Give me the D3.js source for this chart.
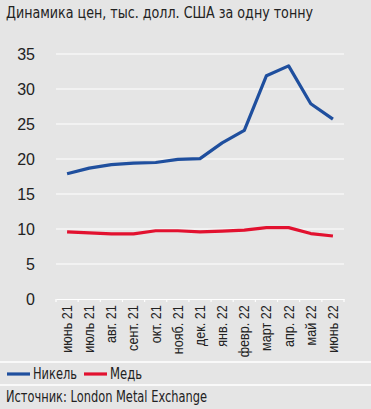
<!DOCTYPE html>
<html>
<head>
<meta charset="utf-8">
<script src="https://cdn.jsdelivr.net/npm/d3@7"></script>
<style>
  body { margin: 0; background: #e5e5e5; }
  svg { display: block; font-family: "Liberation Sans Narrow", "DejaVu Sans Condensed", sans-serif; }
  .grid line { stroke: #fff; stroke-width: 1.2; }
  .tick text { fill: #222; }
</style>
</head>
<body>
<script>
//chart data
var months = ["июнь 21", "июль 21", "авг. 21", "сент. 21", "окт. 21", "нояб. 21", "дек. 21",
    "янв. 22", "февр. 22", "март 22", "апр. 22", "май 22", "июнь 22"];
var nickel = [17.9, 18.7, 19.2, 19.4, 19.5, 19.95, 20.05, 22.3, 24.1, 31.9, 33.3, 27.9, 25.7];
var copper = [9.6, 9.45, 9.3, 9.3, 9.75, 9.75, 9.6, 9.7, 9.85, 10.2, 10.2, 9.35, 9.0];
var yTicks = [0, 5, 10, 15, 20, 25, 30, 35];
var seriesNames = ["Никель", "Медь"];
var seriesColors = ["#1f4f9e", "#e2112f"];

window.onload = draw();

function draw(){
    var width = 371,
        height = 409;

    var svg = d3.select("body")
        .append("svg")
        .attr("width", width)
        .attr("height", height);

    //title (reference font is more condensed, so fit it to its width)
    svg.append("text")
        .attr("x", 6)
        .attr("y", 18)
        .attr("font-size", 16.5)
        .attr("fill", "#222")
        .attr("textLength", 307)
        .attr("lengthAdjust", "spacingAndGlyphs")
        .text("Динамика цен, тыс. долл. США за одну тонну");

    //scales
    var x = d3.scaleBand()
        .domain(months)
        .range([56, 344]);

    var y = d3.scaleLinear()
        .domain([0, 35])
        .range([299, 54]);

    //grid lines
    svg.append("g")
        .attr("class", "grid")
        .selectAll("line")
        .data(yTicks.filter(function(d){ return d > 0; }))
        .enter()
        .append("line")
        .attr("x1", 56)
        .attr("x2", 344)
        .attr("y1", function(d){ return y(d); })
        .attr("y2", function(d){ return y(d); });

    //y axis labels
    var yAxis = svg.append("g")
        .attr("transform", "translate(35,0)")
        .call(d3.axisLeft(y).tickValues(yTicks).tickSize(0).tickPadding(0));
    yAxis.select(".domain").remove();
    yAxis.selectAll("text").attr("font-size", 16).attr("font-family", null);

    //x axis with ticks on band boundaries
    var xAxis = svg.append("g")
        .attr("transform", "translate(0," + y(0) + ")")
        .call(d3.axisBottom(x).tickSize(0).tickSizeOuter(0));
    xAxis.select(".domain").attr("stroke", "#fff").attr("stroke-width", 1.2);
    xAxis.selectAll("text")
        .attr("font-size", 14)
        .attr("font-family", null)
        .attr("transform", "rotate(-90) scale(0.9,1)")
        .attr("text-anchor", "end")
        .attr("dy", "0.35em")
        .attr("x", -7)
        .attr("y", 0);
    xAxis.selectAll(".boundary")
        .data(months.map(function(m){ return x(m); }).concat([x.range()[1]]))
        .enter()
        .append("line")
        .attr("class", "boundary")
        .attr("x1", function(d){ return d; })
        .attr("x2", function(d){ return d; })
        .attr("y1", 0)
        .attr("y2", 3)
        .attr("stroke", "#fff")
        .attr("stroke-width", 1.2);

    //lines
    var line = d3.line()
        .x(function(d, i){ return x(months[i]) + x.bandwidth() / 2; })
        .y(function(d){ return y(d); });

    [nickel, copper].forEach(function(s, i){
        svg.append("path")
            .datum(s)
            .attr("fill", "none")
            .attr("stroke", seriesColors[i])
            .attr("stroke-width", 3.2)
            .attr("stroke-linejoin", "round")
            .attr("d", line);
    });

    //separators
    [362, 385].forEach(function(yy){
        svg.append("line")
            .attr("x1", 0).attr("x2", width)
            .attr("y1", yy).attr("y2", yy)
            .attr("stroke", "#fff")
            .attr("stroke-width", 1.5);
    });

    //legend
    var legendX = [7, 84],
        legendW = [44, 32];
    seriesNames.forEach(function(name, i){
        var g = svg.append("g").attr("transform", "translate(" + legendX[i] + ",374)");
        g.append("line")
            .attr("x1", 0).attr("x2", 23)
            .attr("stroke", seriesColors[i])
            .attr("stroke-width", 3.2);
        g.append("text")
            .attr("x", 26)
            .attr("dy", "0.35em")
            .attr("font-size", 15.5)
            .attr("fill", "#222")
            .attr("textLength", legendW[i])
            .attr("lengthAdjust", "spacingAndGlyphs")
            .text(name);
    });

    //source
    svg.append("text")
        .attr("x", 6)
        .attr("y", 402)
        .attr("font-size", 15.5)
        .attr("fill", "#222")
        .attr("textLength", 201)
        .attr("lengthAdjust", "spacingAndGlyphs")
        .text("Источник: London Metal Exchange");
}
</script>
</body>
</html>
